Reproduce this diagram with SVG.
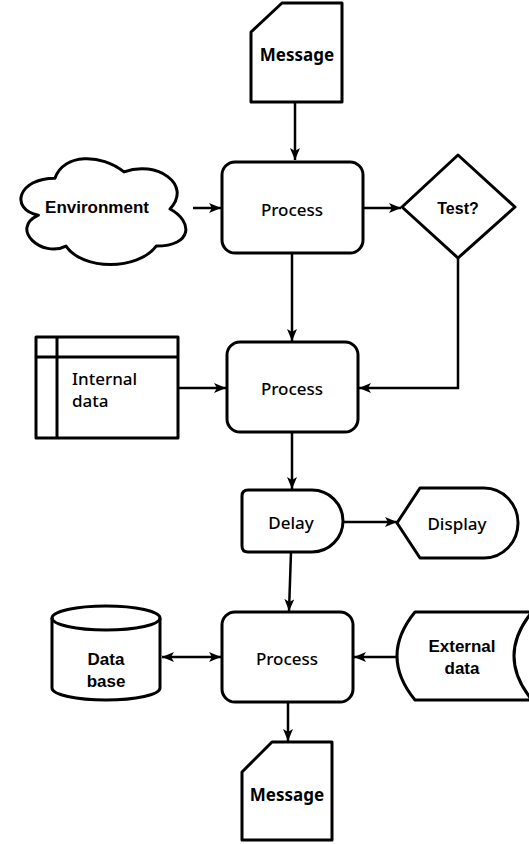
<svg xmlns="http://www.w3.org/2000/svg" width="529" height="844" viewBox="0 0 529 844">
<defs>
<style>
.s{fill:#fff;stroke:#000;stroke-width:3;stroke-linejoin:round}
.l{fill:none;stroke:#000;stroke-width:2.5}
.c{font-family:"Noto Sans",sans-serif;font-size:17px;font-weight:500;text-anchor:middle;fill:#000}
.st{text-anchor:start}
.b{font-weight:bold}
.a{font-family:"Liberation Sans",Arial,sans-serif;font-weight:bold;font-size:17px;text-anchor:middle;fill:#000}
</style>
<marker id="ar" viewBox="0 0 12 10" refX="12" refY="5" markerWidth="12" markerHeight="10" markerUnits="userSpaceOnUse" orient="auto-start-reverse">
<path d="M0,0 L12,5 L0,10 L3,5 Z" fill="#000"/>
</marker>
</defs>
<rect width="529" height="844" fill="#fff"/>
<g id="connectors">
<path class="l" d="M295,102 L295,160" marker-end="url(#ar)"/>
<path class="l" d="M193,208 L221,208" marker-end="url(#ar)"/>
<path class="l" d="M363,208 L401,208" marker-end="url(#ar)"/>
<path class="l" d="M292,253 L292,341" marker-end="url(#ar)"/>
<path class="l" d="M458,258 L458,388 L359,388" marker-end="url(#ar)"/>
<path class="l" d="M178,388 L226,388" marker-end="url(#ar)"/>
<path class="l" d="M292,432 L292,489" marker-end="url(#ar)"/>
<path class="l" d="M343,522 L397,522" marker-end="url(#ar)"/>
<path class="l" d="M291,552 L289,611" marker-end="url(#ar)"/>
<path class="l" d="M162,657 L221,657" marker-start="url(#ar)" marker-end="url(#ar)"/>
<path class="l" d="M397,657 L354,657" marker-end="url(#ar)"/>
<path class="l" d="M288,702 L288,741" marker-end="url(#ar)"/>
</g>
<g id="message1">
<path class="s" d="M282,3 H342 V102 H251 V32 Z"/>
<text class="c b" x="297" y="61">Message</text>
</g>
<g id="environment">
<path class="s" vector-effect="non-scaling-stroke" transform="translate(101,209) scale(1.07,1.26) translate(-101,-209)" d="M58,184.5 C23.6,184.5 15,209 42.5,213.9 C15,224.7 46,248.2 68.3,238.4 C83.8,258 135.4,258 152.6,238.4 C187,238.4 187,218.8 165.5,209 C187,189.4 152.6,169.8 122.5,179.6 C101,164.9 66.6,164.9 58,184.5 Z"/>
<text class="a" x="97" y="213">Environment</text>
</g>
<g id="process1">
<rect class="s" x="222" y="162" width="141" height="91" rx="13"/>
<text class="c" x="292" y="216">Process</text>
</g>
<g id="test">
<path class="s" d="M458,155 L515,207 L458,258 L402,207 Z"/>
<text class="a" x="458" y="214" style="font-size:16px">Test?</text>
</g>
<g id="internal-data">
<rect class="s" x="36" y="337" width="142" height="101"/>
<path d="M57,337 V438 M36,357 H178" fill="none" stroke="#000" stroke-width="3"/>
<text class="c st" x="72" y="385">Internal</text>
<text class="c st" x="72" y="407">data</text>
</g>
<g id="process2">
<rect class="s" x="227" y="342" width="131" height="90" rx="13"/>
<text class="c" x="292" y="395">Process</text>
</g>
<g id="delay">
<path class="s" d="M248,490 H312 A31,31 0 0 1 312,552 H248 Q242,552 242,546 V496 Q242,490 248,490 Z"/>
<text class="c" x="291" y="529">Delay</text>
</g>
<g id="display">
<path class="s" d="M397,523 L420,488 H484 A34,35 0 0 1 484,558 H420 Z"/>
<text class="c" x="457" y="530">Display</text>
</g>
<g id="database">
<path class="s" d="M52,618 A54,12 0 0 1 160,618 V688 A54,12 0 0 1 52,688 Z"/>
<path d="M52,618 A54,12 0 0 0 160,618" fill="none" stroke="#000" stroke-width="3"/>
<text class="a" x="106" y="665">Data</text>
<text class="a" x="106" y="687">base</text>
</g>
<g id="process3">
<rect class="s" x="222" y="612" width="131" height="90" rx="13"/>
<text class="c" x="287" y="665">Process</text>
</g>
<g id="external-data">
<path class="s" d="M415,612 H532 Q496,656 532,700 H415 Q379,656 415,612 Z"/>
<text class="a" x="462" y="652">External</text>
<text class="a" x="462" y="674">data</text>
</g>
<g id="message2">
<path class="s" d="M272,742 H332 V840 H242 V772 Z"/>
<text class="c b" x="287" y="801">Message</text>
</g>
</svg>
